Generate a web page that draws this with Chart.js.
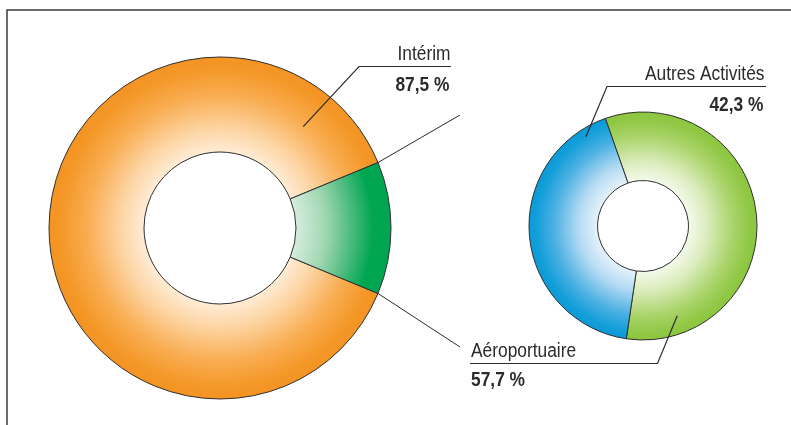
<!DOCTYPE html>
<html lang="fr">
<head>
<meta charset="utf-8">
<title>Répartition du chiffre d'affaires</title>
<script src="https://cdn.jsdelivr.net/npm/chart.js@4.4.1/dist/chart.umd.min.js"></script>
<style>
  html, body { margin: 0; padding: 0; background: #ffffff; }
  #stage { position: relative; width: 791px; height: 425px; overflow: hidden; }
  #stage canvas { position: absolute; left: 0; top: 0; }
</style>
</head>
<body>
<div id="stage">
  <canvas id="ringMain" width="791" height="425"></canvas>
  <canvas id="ringDetail" width="791" height="425"></canvas>
</div>
<script>
// Main ring: interim work vs. the rest of the group
const mainLabels = ['Intérim', 'Aéroportuaire et Autres Activités'];
const mainValues = [87.5, 12.5];

// Detail ring: breakdown of the remaining share
const detailLabels = ['Aéroportuaire', 'Autres Activités'];
const detailValues = [57.7, 42.3];

const FONT = '"Liberation Sans", Arial, Helvetica, sans-serif';
const INK = '#2b2b2b';

function pct(v) {
  return v.toFixed(1).replace('.', ',') + ' %';
}

// Radial shading: pale near the hole, saturated at the rim
function ringShade(ctx, inner, outer, stops) {
  const chart = ctx.chart;
  const area = chart.chartArea;
  if (!area) return stops[stops.length - 1][1];
  const cx = (area.left + area.right) / 2;
  const cy = (area.top + area.bottom) / 2;
  const g = chart.ctx.createRadialGradient(cx, cy, inner, cx, cy, outer);
  stops.forEach(([o, c]) => g.addColorStop(o, c));
  return g;
}

// Condensed text drawn with a horizontal squeeze
function label(c, text, x, y, align, bold) {
  const sx = 0.89;
  c.save();
  c.font = (bold ? 'bold ' : '') + '19.5px ' + FONT;
  c.fillStyle = INK;
  c.textBaseline = 'alphabetic';
  c.textAlign = align;
  c.translate(x, y);
  c.scale(sx, 1);
  c.fillText(text, 0, 0);
  c.restore();
}

function polyline(c, pts, width) {
  c.beginPath();
  c.moveTo(pts[0][0], pts[0][1]);
  for (let i = 1; i < pts.length; i++) c.lineTo(pts[i][0], pts[i][1]);
  c.lineWidth = width || 1;
  c.strokeStyle = INK;
  c.stroke();
}

function polar(arc, r, deg) {
  const a = deg * Math.PI / 180;
  return [arc.x + r * Math.cos(a), arc.y + r * Math.sin(a)];
}

const MAIN_R = 171, MAIN_CUT = 76;
const DETAIL_R = 114, DETAIL_CUT = 45.5;

const mainSpan = mainValues[1] / (mainValues[0] + mainValues[1]) * 360;

const mainShades = [
  [70, [[0, '#fff2e2'], [0.28, '#fdd6a6'], [0.62, '#f9ad52'], [0.88, '#f49828'], [1, '#f39322']]],
  [72, [[0, '#dcf0e3'], [0.33, '#a2d8b4'], [0.62, '#45b97a'], [0.82, '#00a651'], [1, '#00a651']]]
];
const detailShades = [
  [42, [[0, '#f8fcf2'], [0.3, '#dcedbf'], [0.65, '#acd56d'], [0.9, '#90c845'], [1, '#8cc63f']]],
  [42, [[0, '#eef6fc'], [0.3, '#b7dcf3'], [0.65, '#4db1e3'], [0.9, '#129ed9'], [1, '#0b9bd8']]]
];

const mainAnnotations = {
  id: 'mainAnnotations',
  beforeDraw(chart) {
    const c = chart.ctx;
    c.save();
    c.beginPath();
    c.moveTo(7, 425);
    c.lineTo(7, 10);
    c.lineTo(791, 10);
    c.lineWidth = 1.5;
    c.strokeStyle = '#3a3a3a';
    c.stroke();
    c.restore();
  },
  afterDraw(chart) {
    const c = chart.ctx;
    const arcs = chart.getDatasetMeta(0).data;
    const slice = arcs[1];
    const R = slice.outerRadius;
    c.save();
    // connectors leaving the separated slice toward the detail ring
    polyline(c, [[slice.x + R * Math.cos(slice.startAngle), slice.y + R * Math.sin(slice.startAngle)], [460, 115]], 1);
    polyline(c, [[slice.x + R * Math.cos(slice.endAngle), slice.y + R * Math.sin(slice.endAngle)], [460, 347]], 1);
    // callout for the main slice
    const main = arcs[0];
    const anchor = polar(main, main.innerRadius + 0.58 * (main.outerRadius - main.innerRadius), -50.6);
    polyline(c, [anchor, [359, 66.5], [451, 66.5]], 1.2);
    label(c, mainLabels[0], 450.5, 60, 'right', false);
    label(c, pct(mainValues[0]), 449.5, 90.5, 'right', true);
    c.restore();
  }
};

const detailAnnotations = {
  id: 'detailAnnotations',
  afterDraw(chart) {
    const c = chart.ctx;
    const arcs = chart.getDatasetMeta(0).data;
    c.save();
    const a0 = arcs[0], a1 = arcs[1];
    // Autres Activités callout
    const p1 = polar(a1, 106, -122.6);
    polyline(c, [p1, [607, 86.5], [766, 86.5]], 1.2);
    label(c, detailLabels[1], 764.5, 80, 'right', false);
    label(c, pct(detailValues[1]), 763.5, 110.5, 'right', true);
    // Aéroportuaire callout
    const p0 = polar(a0, 96, 69.1);
    polyline(c, [p0, [657.5, 363.5], [470, 363.5]], 1.2);
    label(c, detailLabels[0], 471, 357, 'left', false);
    label(c, pct(detailValues[0]), 471, 385.5, 'left', true);
    c.restore();
  }
};

const baseOptions = {
  responsive: false,
  animation: false,
  events: [],
  devicePixelRatio: 1,
  plugins: { legend: { display: false }, tooltip: { enabled: false } }
};

new Chart(document.getElementById('ringMain'), {
  type: 'doughnut',
  data: {
    labels: mainLabels,
    datasets: [{
      data: mainValues,
      backgroundColor: (ctx) => {
        const s = mainShades[ctx.dataIndex] || mainShades[0];
        return ringShade(ctx, s[0], MAIN_R, s[1]);
      },
      borderColor: '#2f2f2f',
      borderWidth: 1
    }]
  },
  options: Object.assign({}, baseOptions, {
    radius: MAIN_R,
    cutout: (MAIN_CUT / MAIN_R * 100) + '%',
    rotation: 90 + mainSpan / 2,
    layout: { padding: { left: 0, right: 351, top: 31, bottom: 0 } }
  }),
  plugins: [mainAnnotations]
});

new Chart(document.getElementById('ringDetail'), {
  type: 'doughnut',
  data: {
    labels: detailLabels,
    datasets: [{
      data: detailValues,
      backgroundColor: (ctx) => {
        const s = detailShades[ctx.dataIndex] || detailShades[0];
        return ringShade(ctx, s[0], DETAIL_R, s[1]);
      },
      borderColor: '#2f2f2f',
      borderWidth: 1
    }]
  },
  options: Object.assign({}, baseOptions, {
    radius: DETAIL_R,
    cutout: (DETAIL_CUT / DETAIL_R * 100) + '%',
    rotation: -19.3,
    layout: { padding: { left: 503, right: 8, top: 27, bottom: 0 } }
  }),
  plugins: [detailAnnotations]
});
</script>
</body>
</html>
